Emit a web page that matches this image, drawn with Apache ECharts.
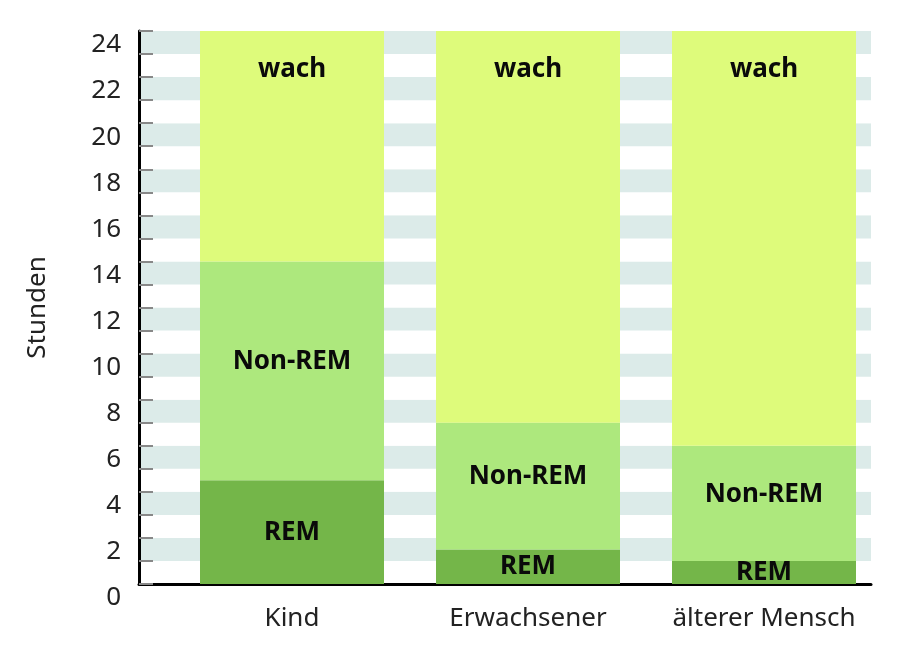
<!DOCTYPE html>
<html>
<head>
<meta charset="utf-8">
<script src="https://cdn.jsdelivr.net/npm/echarts@6/dist/echarts.min.js"></script>
<style>html,body{margin:0;padding:0;background:#fff}#c{width:900px;height:658px}</style>
</head>
<body>
<div id="c"></div>
<script>
const categories = ['Kind', 'Erwachsener', 'älterer Mensch'];
const remValues = [4.5, 1.5, 1.0];
const nonRemValues = [9.5, 5.5, 5.0];
const wachValues = [10, 17, 18];
const yTicks = { min: 0, max: 24, interval: 1, labelStep: 2 };

const FONT = '"Noto Sans", sans-serif';
const labelStyle = { show: true, color: '#0a0a0a', fontSize: 26, fontWeight: 'bold', fontFamily: FONT };

const chart = echarts.init(document.getElementById('c'));
chart.setOption({
  animation: false,
  grid: [
    { left: 139, right: 29, top: 31, bottom: 74 },
    { left: 174, right: 18, top: 31, bottom: 74 }
  ],
  xAxis: [
    { gridIndex: 0, type: 'category', data: categories,
      axisLine: { show: true, lineStyle: { color: '#000', width: 3 } },
      axisTick: { show: false }, axisLabel: { show: false }, splitLine: { show: false } },
    { gridIndex: 1, type: 'category', data: categories,
      axisLine: { show: false }, axisTick: { show: false },
      axisLabel: { interval: 0, color: '#222', fontSize: 26, fontFamily: FONT, margin: 22 } }
  ],
  yAxis: [
    { gridIndex: 0, type: 'value', min: yTicks.min, max: yTicks.max, interval: yTicks.interval,
      name: 'Stunden', nameLocation: 'middle', nameGap: 88,
      nameTextStyle: { color: '#222', fontSize: 26, fontFamily: FONT },
      axisLine: { show: true, lineStyle: { color: '#000', width: 3 } },
      axisTick: { show: true, inside: true, length: 14, lineStyle: { color: '#888', width: 2 } },
      axisLabel: { showMinLabel: true, showMaxLabel: true, hideOverlap: false,
                   formatter: v => (v % yTicks.labelStep === 0 ? String(v) : ''),
                   color: '#222', fontSize: 26, fontFamily: FONT, margin: 18,
                   verticalAlign: 'top', lineHeight: 28 },
      splitLine: { show: false },
      splitArea: { show: true, areaStyle: { color: ['#ffffff', '#dcebe9'] } } },
    { gridIndex: 1, type: 'value', min: yTicks.min, max: yTicks.max, show: false, splitLine: { show: false } }
  ],
  series: [
    { name: 'REM', type: 'bar', stack: 's', xAxisIndex: 1, yAxisIndex: 1, barWidth: 184,
      data: remValues, itemStyle: { color: '#74b649' },
      label: Object.assign({}, labelStyle, { position: 'inside', formatter: 'REM' }) },
    { name: 'Non-REM', type: 'bar', stack: 's', xAxisIndex: 1, yAxisIndex: 1, barWidth: 184,
      data: nonRemValues, itemStyle: { color: '#ade87d' },
      label: Object.assign({}, labelStyle, { position: 'inside', offset: [0, -9], formatter: 'Non-REM' }) },
    { name: 'wach', type: 'bar', stack: 's', xAxisIndex: 1, yAxisIndex: 1, barWidth: 184,
      data: wachValues, itemStyle: { color: '#defb7b' },
      label: Object.assign({}, labelStyle, { position: 'insideTop', distance: 26, formatter: 'wach' }) }
  ]
});
</script>
</body>
</html>
